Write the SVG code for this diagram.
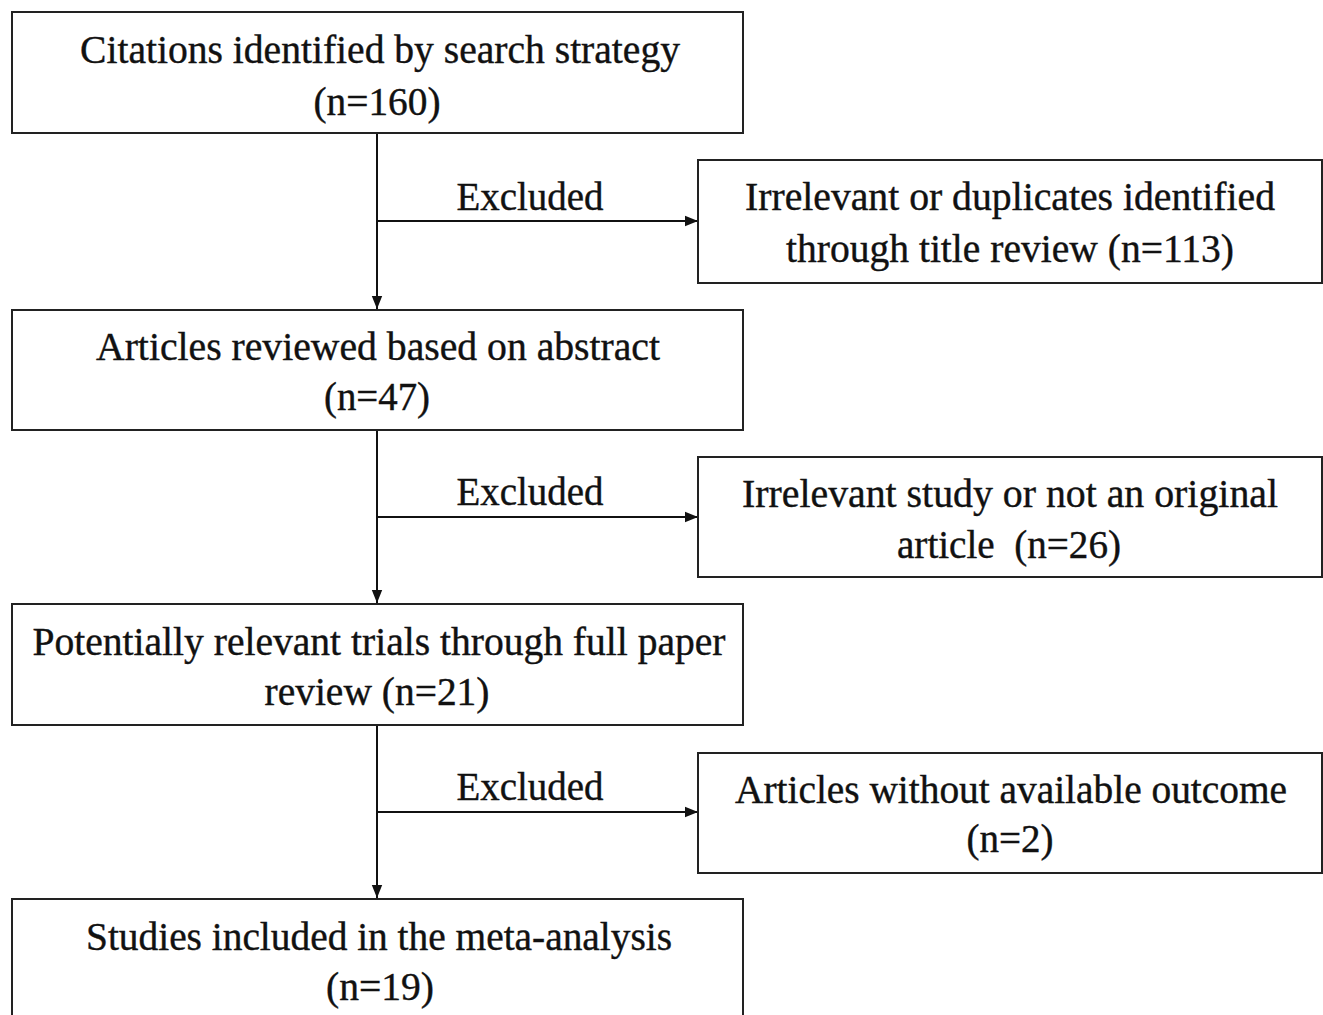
<svg xmlns="http://www.w3.org/2000/svg" width="1323" height="1015" viewBox="0 0 1323 1015">
<style>
.box{fill:#fff;stroke:#222;stroke-width:2}
.t{font-family:"Liberation Serif","Times New Roman",serif;font-size:40px;fill:#111;stroke:#111;stroke-width:0.4;text-anchor:middle}
.c{stroke:#111;stroke-width:2;fill:none}
</style>
<defs>
<marker id="ah2" viewBox="0 0 10 10" refX="10" refY="5" markerWidth="14" markerHeight="13" markerUnits="userSpaceOnUse" orient="auto"><path d="M0,1 L10,5 L0,9 z" fill="#111"/></marker>
</defs>
<rect width="1323" height="1015" fill="#fff"/>
<g id="connectors">
<line class="c" x1="377" y1="133" x2="377" y2="309" marker-end="url(#ah2)"/>
<line class="c" x1="377" y1="221" x2="698" y2="221" marker-end="url(#ah2)"/>
<line class="c" x1="377" y1="430" x2="377" y2="603" marker-end="url(#ah2)"/>
<line class="c" x1="377" y1="517" x2="698" y2="517" marker-end="url(#ah2)"/>
<line class="c" x1="377" y1="725" x2="377" y2="898" marker-end="url(#ah2)"/>
<line class="c" x1="377" y1="812" x2="698" y2="812" marker-end="url(#ah2)"/>
<text class="t" x="530" y="210" textLength="147" lengthAdjust="spacingAndGlyphs">Excluded</text>
<text class="t" x="530" y="505" textLength="147" lengthAdjust="spacingAndGlyphs">Excluded</text>
<text class="t" x="530" y="800" textLength="147" lengthAdjust="spacingAndGlyphs">Excluded</text>
</g>
<g id="n1">
<rect class="box" x="12" y="12" width="731" height="121"/>
<text class="t" x="380" y="63" textLength="600" lengthAdjust="spacingAndGlyphs">Citations identified by search strategy</text>
<text class="t" x="377" y="115" textLength="127" lengthAdjust="spacingAndGlyphs">(n=160)</text>
</g>
<g id="r1">
<rect class="box" x="698" y="160" width="624" height="123"/>
<text class="t" x="1010" y="210" textLength="530" lengthAdjust="spacingAndGlyphs">Irrelevant or duplicates identified</text>
<text class="t" x="1010" y="262" textLength="448" lengthAdjust="spacingAndGlyphs">through title review (n=113)</text>
</g>
<g id="n2">
<rect class="box" x="12" y="310" width="731" height="120"/>
<text class="t" x="378" y="360" textLength="564" lengthAdjust="spacingAndGlyphs">Articles reviewed based on abstract</text>
<text class="t" x="377" y="410" textLength="106" lengthAdjust="spacingAndGlyphs">(n=47)</text>
</g>
<g id="r2">
<rect class="box" x="698" y="457" width="624" height="120"/>
<text class="t" x="1010" y="507" textLength="536" lengthAdjust="spacingAndGlyphs">Irrelevant study or not an original</text>
<text class="t" x="1009" y="558" textLength="224" lengthAdjust="spacingAndGlyphs" xml:space="preserve">article  (n=26)</text>
</g>
<g id="n3">
<rect class="box" x="12" y="604" width="731" height="121"/>
<text class="t" x="379" y="655" textLength="693" lengthAdjust="spacingAndGlyphs">Potentially relevant trials through full paper</text>
<text class="t" x="377" y="705" textLength="225" lengthAdjust="spacingAndGlyphs">review (n=21)</text>
</g>
<g id="r3">
<rect class="box" x="698" y="753" width="624" height="120"/>
<text class="t" x="1011" y="803" textLength="552" lengthAdjust="spacingAndGlyphs">Articles without available outcome</text>
<text class="t" x="1010" y="852" textLength="87" lengthAdjust="spacingAndGlyphs">(n=2)</text>
</g>
<g id="n4">
<rect class="box" x="12" y="899" width="731" height="130"/>
<text class="t" x="379" y="950" textLength="586" lengthAdjust="spacingAndGlyphs">Studies included in the meta-analysis</text>
<text class="t" x="380" y="1000" textLength="108" lengthAdjust="spacingAndGlyphs">(n=19)</text>
</g>
</svg>
